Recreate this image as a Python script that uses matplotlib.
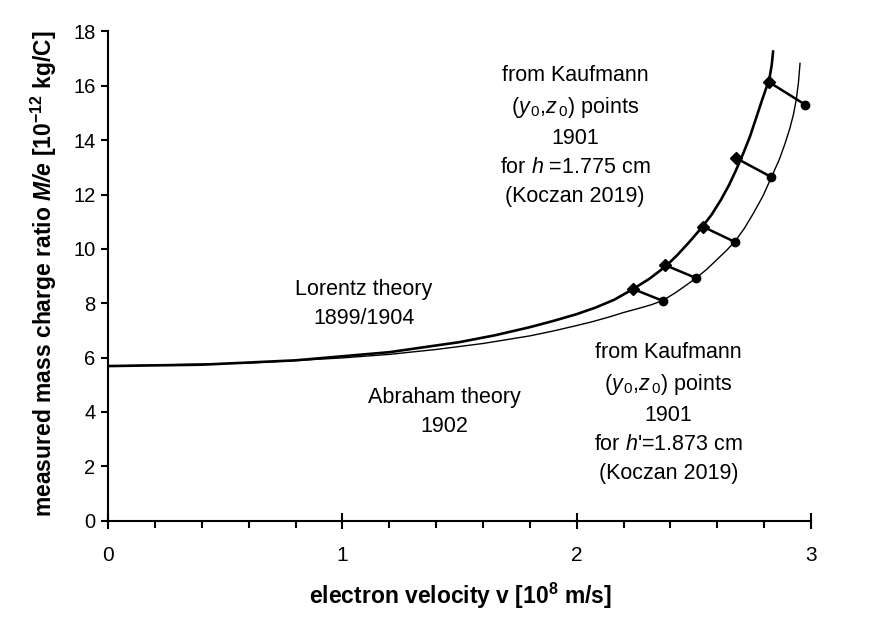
import matplotlib
matplotlib.use('Agg')
import matplotlib.pyplot as plt
from matplotlib.ticker import MultipleLocator

plt.rcParams['font.family'] = ['Liberation Sans', 'DejaVu Sans']
plt.rcParams['mathtext.fontset'] = 'custom'
plt.rcParams['mathtext.rm'] = 'Liberation Sans'
plt.rcParams['mathtext.it'] = 'Liberation Sans:italic'
plt.rcParams['mathtext.bf'] = 'Liberation Sans:bold'
plt.rcParams['mathtext.bfit'] = 'Liberation Sans:italic:bold'

# Lorentz theory curve
lorentz_v = [0.0, 0.4, 0.8, 1.2, 1.5, 1.65, 1.8, 1.9, 2.0, 2.08, 2.16, 2.24, 2.31, 2.38,
             2.43, 2.48, 2.53, 2.575, 2.615, 2.65, 2.68, 2.71, 2.74, 2.765, 2.79, 2.81,
             2.822, 2.832, 2.838]
lorentz_me = [5.69, 5.74, 5.90, 6.20, 6.57, 6.82, 7.12, 7.35, 7.60, 7.84, 8.13, 8.52, 8.90,
              9.36, 9.78, 10.25, 10.75, 11.25, 11.80, 12.35, 12.90, 13.50, 14.15, 14.80,
              15.45, 15.95, 16.25, 16.75, 17.26]

# Abraham theory curve
abraham_v = [0.0, 0.6, 1.0, 1.2, 1.4, 1.6, 1.8, 1.9, 2.0, 2.07, 2.14, 2.2, 2.26, 2.32, 2.367,
             2.42, 2.46, 2.51, 2.555, 2.6, 2.64, 2.675, 2.715, 2.754, 2.795, 2.832, 2.865,
             2.89, 2.91, 2.925, 2.937, 2.946, 2.953]
abraham_me = [5.69, 5.80, 5.99, 6.12, 6.30, 6.52, 6.80, 6.98, 7.18, 7.33, 7.50, 7.66, 7.80,
              7.95, 8.10, 8.38, 8.62, 8.93, 9.25, 9.62, 9.95, 10.27, 10.75, 11.31, 11.95,
              12.66, 13.30, 13.90, 14.45, 14.95, 15.50, 16.10, 16.83]

# Kaufmann points, h = 1.775 cm (diamonds) and h' = 1.873 cm (circles)
kauf_h_v = [2.822, 2.680, 2.538, 2.378, 2.242]
kauf_h_me = [16.13, 13.34, 10.82, 9.40, 8.52]
kauf_h2_v = [2.974, 2.829, 2.674, 2.509, 2.367]
kauf_h2_me = [15.31, 12.65, 10.26, 8.93, 8.09]

fig = plt.figure(figsize=(8.79, 6.39), dpi=100)
ax = fig.add_axes([0.1229, 0.1851, 0.7998, 0.7657])

ax.plot(lorentz_v, lorentz_me, color='black', lw=1.9)
ax.plot(abraham_v, abraham_me, color='black', lw=1.0)

for i in range(len(kauf_h_v)):
    ax.plot([kauf_h_v[i], kauf_h2_v[i]], [kauf_h_me[i], kauf_h2_me[i]],
            color='black', lw=1.8)
ax.plot(kauf_h_v, kauf_h_me, ls='none', marker='D', ms=6.5, color='black')
ax.plot(kauf_h2_v, kauf_h2_me, ls='none', marker='o', ms=6, color='black')

ax.set_xlim(0, 3)
ax.set_ylim(0, 18)
ax.xaxis.set_major_locator(MultipleLocator(1))
ax.xaxis.set_minor_locator(MultipleLocator(0.2))
ax.yaxis.set_major_locator(MultipleLocator(2))

for s in ['top', 'right']:
    ax.spines[s].set_visible(False)
for s in ['left', 'bottom']:
    ax.spines[s].set_linewidth(1.5)

ax.tick_params(axis='x', which='major', direction='inout', length=12, width=1.5,
               labelsize=15, pad=12)
ax.tick_params(axis='x', which='minor', direction='out', length=5, width=1.5)
ax.tick_params(axis='y', which='major', direction='out', length=5, width=1.5,
               labelsize=14.5, pad=4)

fig.text(460 / 879, 1 - 596 / 639, r'electron velocity v [10$^{\mathbf{8}}$ m/s]',
         ha='center', va='center', fontsize=16.5, fontweight='bold')
fig.text(44 / 879, 1 - 274 / 639,
         r'measured mass charge ratio $\mathbfit{M/e}$ [10$^{\mathbf{-12}}$ kg/C]',
         ha='center', va='center', rotation=90, fontsize=16.5, fontweight='bold')

ax.text(1.993, 14.15, 'from Kaufmann\n($\\mathit{y}_{\\,0}$,$\\mathit{z}_{\\,0}$) points\n1901\n'
        'for $\\mathit{h}$ =1.775 cm\n(Koczan 2019)',
        ha='center', va='center', fontsize=15.5, linespacing=1.5)
ax.text(1.092, 7.98, 'Lorentz theory\n1899/1904', ha='center', va='center',
        fontsize=15.5, linespacing=1.5)
ax.text(1.435, 4.0, 'Abraham theory\n1902', ha='center', va='center',
        fontsize=15.5, linespacing=1.5)
ax.text(2.391, 3.95, 'from Kaufmann\n($\\mathit{y}_{\\,0}$,$\\mathit{z}_{\\,0}$) points\n1901\n'
        "for $\\mathit{h}$'=1.873 cm\n(Koczan 2019)",
        ha='center', va='center', fontsize=15.5, linespacing=1.5)

fig.savefig('out.png', dpi=100)
